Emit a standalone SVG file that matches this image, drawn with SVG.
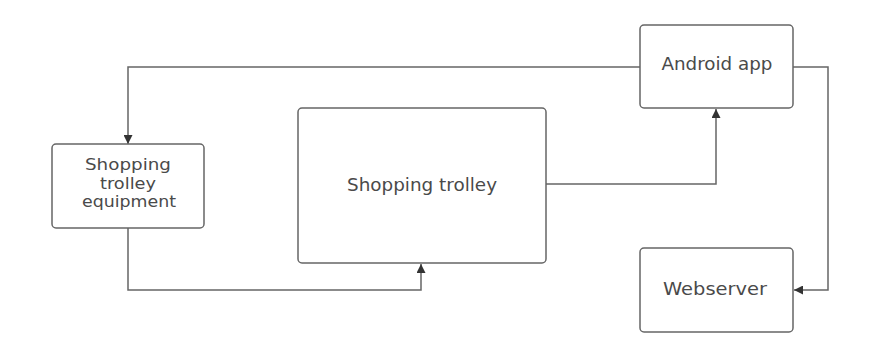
<svg xmlns="http://www.w3.org/2000/svg" width="891" height="339" viewBox="0 0 891 339">
<defs>
<marker id="arr" viewBox="0 0 10 10" refX="10" refY="5" markerWidth="9" markerHeight="9" markerUnits="userSpaceOnUse" orient="auto">
<path d="M0,0 L10,5 L0,10 z" fill="#333"/>
</marker>
</defs>
<style>
.box{fill:#fff;stroke:#666;stroke-width:1.5}
.lbl{font-family:"DejaVu Sans","Liberation Sans",Arial,sans-serif;font-size:17px;fill:#4a4a4a;text-anchor:middle}
.sm{font-size:15px}
.edge{fill:none;stroke:#666;stroke-width:1.5;marker-end:url(#arr)}
</style>
<rect width="891" height="339" fill="#fff"/>
<g id="connectors">
<path class="edge" d="M640,67 H128 V144"/>
<path class="edge" d="M793,67 H828 V290 H794"/>
<path class="edge" d="M546,184 H716 V109"/>
<path class="edge" d="M128,228 V290 H421 V264"/>
</g>
<g id="equipment">
<rect class="box" x="52" y="144" width="152" height="84" rx="4"/>
<text class="lbl sm" x="128" y="170" textLength="86" lengthAdjust="spacingAndGlyphs">Shopping</text>
<text class="lbl sm" x="128" y="188.5" textLength="56" lengthAdjust="spacingAndGlyphs">trolley</text>
<text class="lbl sm" x="129" y="207" textLength="94" lengthAdjust="spacingAndGlyphs">equipment</text>
</g>
<g id="trolley">
<rect class="box" x="298" y="108" width="248" height="155" rx="4"/>
<text class="lbl" x="422" y="191" textLength="150" lengthAdjust="spacingAndGlyphs">Shopping trolley</text>
</g>
<g id="android">
<rect class="box" x="640" y="25" width="153" height="83" rx="4"/>
<text class="lbl" x="717" y="70" textLength="111" lengthAdjust="spacingAndGlyphs">Android app</text>
</g>
<g id="webserver">
<rect class="box" x="640" y="248" width="153" height="84" rx="4"/>
<text class="lbl" x="715" y="295" textLength="104" lengthAdjust="spacingAndGlyphs">Webserver</text>
</g>
</svg>
